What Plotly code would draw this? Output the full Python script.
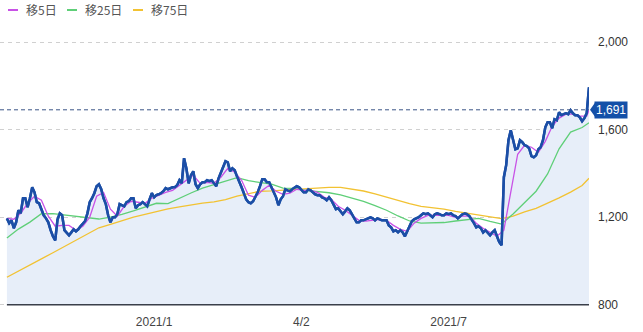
import pandas as pd
import plotly.graph_objects as go

# ---------------- data ----------------
start_date = "2020-10-06"
end_date = "2021-09-24"

price = [
    1195, 1173, 1186, 1150, 1177, 1232, 1218, 1287, 1287, 1246,
    1287, 1337, 1314, 1269, 1264, 1232, 1209, 1195, 1177, 1141,
    1113, 1095, 1190, 1218, 1210, 1141, 1127, 1118, 1131, 1145,
    1136, 1145, 1159, 1173, 1182, 1218, 1269, 1287, 1310, 1342,
    1351, 1328, 1287, 1260, 1209, 1177, 1200, 1200, 1214, 1260,
    1255, 1250, 1269, 1273, 1287, 1287, 1241, 1255, 1260, 1269,
    1260, 1250, 1282, 1310, 1291, 1301, 1305, 1310, 1319, 1333,
    1328, 1333, 1337, 1337, 1346, 1369, 1355, 1470, 1424, 1355,
    1392, 1410, 1351, 1333, 1351, 1360, 1360, 1369, 1365, 1369,
    1355, 1342, 1378, 1406, 1433, 1456, 1451, 1410, 1424, 1415,
    1387, 1365, 1337, 1310, 1282, 1269, 1264, 1273, 1291, 1314,
    1342, 1374, 1374, 1360, 1360, 1337, 1314, 1291, 1255, 1282,
    1296, 1328, 1323, 1319, 1328, 1337, 1342, 1337, 1323, 1314,
    1314, 1328, 1323, 1314, 1305, 1301, 1301, 1291, 1287, 1278,
    1291, 1278, 1255, 1237, 1241, 1227, 1214, 1227, 1241, 1232,
    1214, 1191, 1177, 1177, 1186, 1186, 1191, 1195, 1200, 1195,
    1186, 1195, 1191, 1186, 1186, 1186, 1163, 1154, 1136, 1141,
    1131, 1141, 1131, 1113, 1136, 1159, 1182, 1191, 1195, 1200,
    1209, 1218, 1214, 1218, 1209, 1200, 1214, 1218, 1214, 1209,
    1209, 1218, 1214, 1218, 1209, 1205, 1195, 1205, 1214, 1218,
    1214, 1205, 1191, 1173, 1154, 1159, 1150, 1131, 1141, 1127,
    1118, 1131, 1141, 1113, 1086, 1072, 1383, 1438, 1552, 1598,
    1557, 1511, 1515, 1552, 1543, 1529, 1525, 1515, 1479, 1474,
    1483, 1511, 1520, 1552, 1611, 1634, 1634, 1607, 1648, 1643,
    1680, 1666, 1671, 1675, 1671, 1689, 1675, 1666, 1666, 1657,
    1639, 1653, 1675, 1794,
]

ma5_step = 3
ma5 = [
    1195, 1191, 1218, 1264, 1296, 1278, 1205, 1159, 1163, 1163,
    1141, 1159, 1200, 1296, 1314, 1237, 1205, 1250, 1273, 1269,
    1264, 1287, 1301, 1314, 1323, 1346, 1369, 1392, 1355, 1360,
    1355, 1383, 1424, 1406, 1369, 1301, 1291, 1323, 1346, 1319,
    1305, 1310, 1328, 1323, 1323, 1314, 1291, 1282, 1250, 1232,
    1209, 1186, 1182, 1186, 1191, 1186, 1163, 1145, 1136, 1173,
    1195, 1209, 1209, 1209, 1209, 1200, 1205, 1205, 1173, 1150,
    1131, 1113, 1141, 1314, 1488, 1529, 1520, 1497, 1547, 1616,
    1653, 1671, 1671, 1662, 1662, 1689,
]
ma25_step = 5
ma25 = [
    1105, 1146, 1178, 1216, 1217, 1210, 1204, 1197, 1192, 1201,
    1213, 1229, 1248, 1264, 1262, 1287, 1311, 1333, 1348, 1363,
    1381, 1367, 1358, 1351, 1333, 1332, 1323, 1319, 1312, 1302,
    1289, 1273, 1253, 1232, 1206, 1183, 1173, 1173, 1176, 1183,
    1189, 1195, 1181, 1169, 1215, 1268, 1319, 1398, 1513, 1589,
    1610, 1632,
]
ma75_step = 5
ma75 = [
    926, 953, 983, 1010, 1038, 1066, 1094, 1124, 1152, 1168,
    1185, 1201, 1213, 1226, 1238, 1247, 1256, 1265, 1270, 1281,
    1297, 1309, 1319, 1321, 1324, 1327, 1331, 1336, 1337, 1337,
    1329, 1320, 1307, 1292, 1276, 1262, 1250, 1244, 1237, 1227,
    1218, 1210, 1202, 1194, 1205, 1225, 1241, 1264, 1289, 1315,
    1345, 1378,
]

last_price = 1691

tick_dates = ["2021-01-04", "2021-04-02", "2021-07-01"]
tick_labels = ["2021/1", "4/2", "2021/7"]
y_ticks = [800, 1200, 1600, 2000]
y_min, y_max = 800, 2000

series_names = ["移5日", "移25日", "移75日"]
series_colors = ["#c852e6", "#5fcf78", "#f2c232"]

# ---------------- build ----------------
dates = [d.strftime("%Y-%m-%d") for d in pd.bdate_range(start_date, end_date)]
N = len(dates)
assert N == len(price)


def sampled_dates(step, n_vals):
    idx = list(range(0, N, step))
    if idx[-1] != N - 1:
        idx.append(N - 1)
    idx = idx[:n_vals]
    return [dates[i] for i in idx]


fig = go.Figure()

price_line = dict(color="#1b4ea6", width=2.5)

# invisible floor at the axis minimum, so the area stops at the baseline
fig.add_trace(go.Scatter(
    x=dates, y=[y_min] * N, mode="lines", line=dict(width=0),
    showlegend=False, hoverinfo="skip",
))
# area + price line
fig.add_trace(go.Scatter(
    x=dates, y=price, mode="lines", fill="tonexty",
    fillcolor="#e7eef9", line=price_line,
    showlegend=False, hoverinfo="skip",
))
for vals, step, name, col in [
    (ma75, ma75_step, series_names[2], series_colors[2]),
    (ma25, ma25_step, series_names[1], series_colors[1]),
    (ma5, ma5_step, series_names[0], series_colors[0]),
]:
    fig.add_trace(go.Scatter(
        x=sampled_dates(step, len(vals)), y=vals, mode="lines", name=name,
        line=dict(color=col, width=1.3), showlegend=False,
    ))
# re-draw price line on top of MAs
fig.add_trace(go.Scatter(
    x=dates, y=price, mode="lines", line=price_line, showlegend=False,
))

W, H = 643, 332
ML, MR, MT, MB = 0, 54, 40, 25
PW, PH = W - ML - MR, H - MT - MB
pad = 10  # value units of headroom so edge lines stay visible


def px_to_paper_x(px):
    return (px - ML) / PW


def py_to_paper_y(py):
    return 1 - (py - MT) / PH


shapes = []
annotations = []

# custom legend
legend_x = [8, 67, 133]
for name, col, lx in zip(series_names, series_colors, legend_x):
    shapes.append(dict(
        type="line", xref="paper", yref="paper",
        x0=px_to_paper_x(lx), x1=px_to_paper_x(lx + 10),
        y0=py_to_paper_y(10), y1=py_to_paper_y(10),
        line=dict(color=col, width=2),
    ))
    annotations.append(dict(
        text=name, xref="paper", yref="paper",
        x=px_to_paper_x(lx + 16), y=py_to_paper_y(10),
        xanchor="left", yanchor="middle", showarrow=False,
        font=dict(family="Noto Sans CJK JP", size=12, color="#555555"),
    ))

# baseline at bottom value
shapes.append(dict(
    type="line", xref="x", yref="y", x0=dates[0], x1=dates[-1],
    y0=y_min, y1=y_min,
    line=dict(color="#3a3f4a", width=1.5), layer="above",
))
# last price dashed line
shapes.append(dict(
    type="line", xref="paper", yref="y", x0=0, x1=1, y0=last_price, y1=last_price,
    line=dict(color="#3b5486", width=1, dash="4px,3px"),
))
# arrow of price label
shapes.append(dict(
    type="path", xref="paper", yref="y", xsizemode="pixel", ysizemode="pixel",
    xanchor=1, yanchor=last_price, path="M1,0 L6,7 L6,-7 Z",
    fillcolor="#1450a8", line=dict(width=0),
))
annotations.append(dict(
    text=f"{last_price:,}", xref="paper", yref="y", x=1, y=last_price,
    xanchor="left", yanchor="middle", xshift=5, showarrow=False,
    bgcolor="#1450a8", borderpad=1,
    font=dict(family="Liberation Sans", size=12, color="white"),
))

fig.update_layout(
    width=W, height=H,
    margin=dict(l=ML, r=MR, t=MT, b=MB),
    paper_bgcolor="white", plot_bgcolor="white",
    showlegend=False,
    shapes=shapes, annotations=annotations,
    font=dict(family="Liberation Sans", size=12, color="#333333"),
    xaxis=dict(
        type="category", range=[-3, N - 1],
        tickmode="array", tickvals=tick_dates, ticktext=tick_labels,
        showgrid=False, zeroline=False, showline=False, ticks="",
        ticklabelstandoff=6,
        tickfont=dict(size=12, color="#444444"),
    ),
    yaxis=dict(
        range=[y_min - pad, y_max + pad], side="right",
        tickmode="array", tickvals=y_ticks,
        ticktext=[f"{v:,}" for v in y_ticks],
        showgrid=True, gridcolor="#d0d0d0", griddash="4px,4px", gridwidth=1,
        zeroline=False, showline=False, ticks="", ticklabelstandoff=8,
        tickfont=dict(size=12, color="#333333"),
    ),
)

fig.write_html("out.html")
